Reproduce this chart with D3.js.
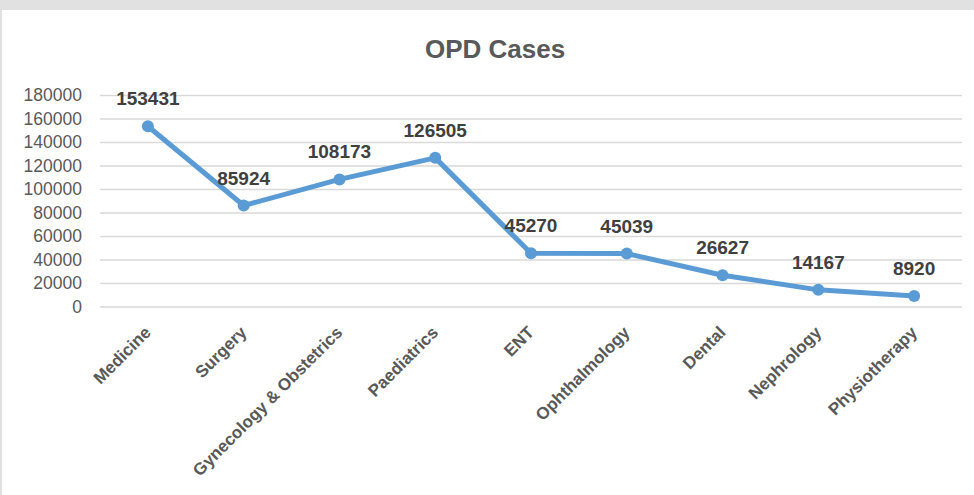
<!DOCTYPE html>
<html>
<head>
<meta charset="utf-8">
<script src="https://cdn.jsdelivr.net/npm/d3@7"></script>
<style>
  body { margin: 0; background: #e1e1e1; }
  svg { display: block; }
</style>
</head>
<body>
<svg width="974" height="495"></svg>
<script>
// data
const categories = ['Medicine', 'Surgery', 'Gynecology & Obstetrics', 'Paediatrics', 'ENT',
  'Ophthalmology', 'Dental', 'Nephrology', 'Physiotherapy'];
const cases = [153431, 85924, 108173, 126505, 45270, 45039, 26627, 14167, 8920];
const yTicks = [0, 20000, 40000, 60000, 80000, 100000, 120000, 140000, 160000, 180000];

const svg = d3.select('svg');
const font = '"Liberation Sans", Arial, sans-serif';

// white chart panel, grey frame shows on top and left
svg.append('rect')
  .attr('x', 2)
  .attr('y', 10)
  .attr('width', 972)
  .attr('height', 485)
  .attr('fill', '#ffffff');

const plotL = 100, plotR = 962, plotT = 95, plotB = 306.5;

const x = d3.scalePoint()
  .domain(categories)
  .range([plotL, plotR])
  .padding(0.5);

const y = d3.scaleLinear()
  .domain([0, 180000])
  .range([plotB, plotT]);

// title
svg.append('text')
  .attr('x', 495)
  .attr('y', 58)
  .attr('text-anchor', 'middle')
  .attr('font-family', font)
  .attr('font-weight', 'bold')
  .attr('font-size', 26)
  .attr('fill', '#595959')
  .text('OPD Cases');

// gridlines + y labels
const yAxis = svg.append('g')
  .attr('transform', `translate(${plotL},0)`)
  .call(d3.axisLeft(y).tickValues(yTicks).tickSize(-(plotR - plotL)).tickPadding(18).tickFormat(d3.format('d')));
yAxis.select('.domain').remove();
yAxis.selectAll('.tick line')
  .attr('stroke', '#d9d9d9')
  .attr('stroke-width', 1.5);
yAxis.selectAll('.tick text')
  .attr('font-family', font)
  .attr('font-size', 17.5)
  .attr('fill', '#595959');

// x labels
svg.append('g')
  .selectAll('text')
  .data(categories)
  .join('text')
  .attr('transform', d => `translate(${x(d) + 4},${plotB + 27}) rotate(-45)`)
  .attr('text-anchor', 'end')
  .attr('font-family', font)
  .attr('font-weight', 'bold')
  .attr('font-size', 17)
  .attr('fill', '#595959')
  .text(d => d);

// line
const line = d3.line()
  .x((d, i) => x(categories[i]))
  .y(d => y(d));

svg.append('path')
  .datum(cases)
  .attr('d', line)
  .attr('fill', 'none')
  .attr('stroke', '#5b9bd5')
  .attr('stroke-width', 5)
  .attr('stroke-linejoin', 'round');

svg.append('g')
  .selectAll('circle')
  .data(cases)
  .join('circle')
  .attr('cx', (d, i) => x(categories[i]))
  .attr('cy', d => y(d))
  .attr('r', 6)
  .attr('fill', '#5b9bd5');

// data labels
svg.append('g')
  .selectAll('text')
  .data(cases)
  .join('text')
  .attr('x', (d, i) => x(categories[i]))
  .attr('y', d => y(d) - 21)
  .attr('text-anchor', 'middle')
  .attr('font-family', font)
  .attr('font-weight', 'bold')
  .attr('font-size', 19)
  .attr('fill', '#404040')
  .text(d => d);
</script>
</body>
</html>
